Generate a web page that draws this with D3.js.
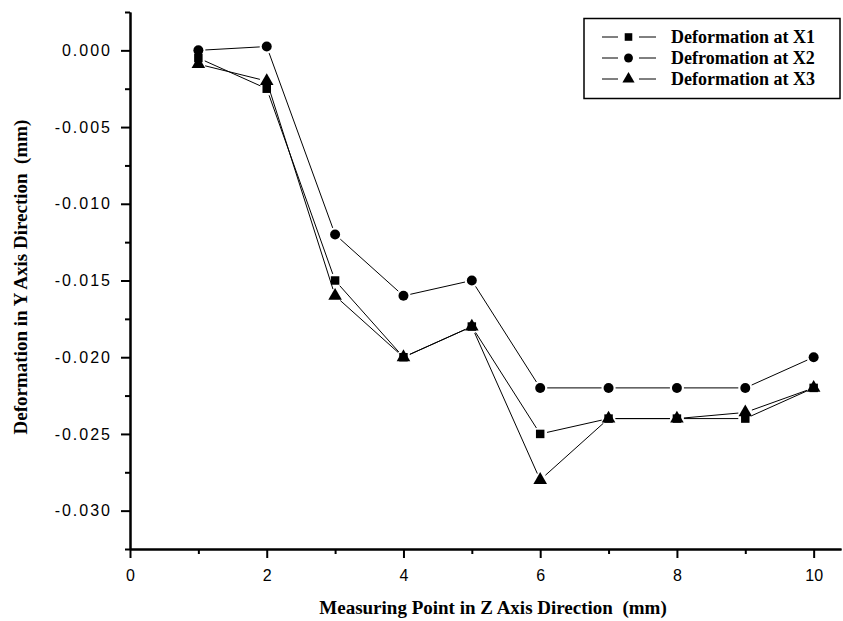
<!DOCTYPE html>
<html><head><meta charset="utf-8">
<script src="https://cdn.jsdelivr.net/npm/d3@7"></script>
<style>body{margin:0;background:#fff}</style></head><body>
<svg id="c" width="843" height="621"></svg>
<script>
const points = [1,2,3,4,5,6,7,8,9,10];
const seriesNames = ["Deformation at X1","Defromation at X2","Deformation at X3"];
const seriesX1 = [-0.0005,-0.0025,-0.015,-0.020,-0.018,-0.025,-0.024,-0.024,-0.024,-0.022];
const seriesX2 = [0.0000,0.00025,-0.012,-0.016,-0.015,-0.022,-0.022,-0.022,-0.022,-0.020];
const seriesX3 = [-0.0009,-0.002,-0.016,-0.020,-0.018,-0.028,-0.024,-0.024,-0.0236,-0.022];
const xMajorTicks = [0,2,4,6,8,10];
const xMinorTicks = [1,3,5,7,9];
const yMajorTicks = [0,-0.005,-0.010,-0.015,-0.020,-0.025,-0.030];
const yMinorTicks = [0.0025,-0.0025,-0.0075,-0.0125,-0.0175,-0.0225,-0.0275,-0.0325];
const xTitle = "Measuring Point in Z Axis Direction\u00a0 (mm)";
const yTitle = "Deformation in Y Axis Direction\u00a0 (mm)";

const svg = d3.select("#c");
const x = d3.scaleLinear().domain([0,10.4]).range([130,841]);
const y = d3.scaleLinear().domain([-0.0325,0.0025]).range([549,12]);

const fmt = v => d3.format(".3f")(v).replace("\u2212","-");

// Y axis
const gy = svg.append("g").attr("transform","translate(130,0)");
gy.call(d3.axisLeft(y).tickValues(yMajorTicks).tickSize(9).tickSizeOuter(0).tickFormat(fmt).tickPadding(9));
gy.append("g").call(d3.axisLeft(y).tickValues(yMinorTicks).tickSize(5).tickSizeOuter(0).tickFormat(""));
gy.selectAll(".domain").attr("stroke","#000").attr("stroke-width",2);
gy.selectAll(".tick line").attr("stroke","#000").attr("stroke-width",2);
gy.selectAll(".tick text").attr("font-family","Arial, 'Liberation Sans', sans-serif")
  .attr("font-size",16).attr("fill","#000").style("letter-spacing","2px");

// X axis
const gx = svg.append("g").attr("transform","translate(0,549)");
gx.call(d3.axisBottom(x).tickValues(xMajorTicks).tickSize(9).tickSizeOuter(0).tickFormat(d3.format("d")).tickPadding(12));
gx.append("g").call(d3.axisBottom(x).tickValues(xMinorTicks).tickSize(5).tickSizeOuter(0).tickFormat(""));
gx.selectAll(".domain").attr("stroke","#000").attr("stroke-width",2);
gx.selectAll(".tick line").attr("stroke","#000").attr("stroke-width",2);
gx.selectAll(".tick text").attr("font-family","Arial, 'Liberation Sans', sans-serif")
  .attr("font-size",16).attr("fill","#000");

// Titles
svg.append("text").attr("x",493).attr("y",614).attr("text-anchor","middle")
  .attr("font-family","'Liberation Serif', 'Times New Roman', serif").attr("font-weight","bold")
  .attr("font-size",19).text(xTitle);
svg.append("text").attr("transform","translate(27,277) rotate(-90)").attr("text-anchor","middle")
  .attr("font-family","'Liberation Serif', 'Times New Roman', serif").attr("font-weight","bold")
  .attr("font-size",19).text(yTitle);

const series = [
  {name: seriesNames[0], values: seriesX1, shape: d3.symbolSquare, size: 72},
  {name: seriesNames[1], values: seriesX2, shape: d3.symbolCircle, size: 78},
  {name: seriesNames[2], values: seriesX3, shape: d3.symbolTriangle, size: 80}
];

const gap = 7;
series.forEach(s => {
  const pts = points.map((p,i)=>[x(p), y(s.values[i])]);
  const g = svg.append("g");
  for (let i=0;i<pts.length-1;i++){
    const [x0,y0]=pts[i],[x1,y1]=pts[i+1];
    const dx=x1-x0, dy=y1-y0, L=Math.hypot(dx,dy);
    if (L <= 2*gap) continue;
    const ux=dx/L, uy=dy/L;
    g.append("line").attr("x1",x0+ux*gap).attr("y1",y0+uy*gap)
      .attr("x2",x1-ux*gap).attr("y2",y1-uy*gap)
      .attr("stroke","#000").attr("stroke-width",1);
  }
  g.selectAll("path.m").data(pts).join("path").attr("class","m")
    .attr("transform",d=>`translate(${d[0]},${d[1]})`)
    .attr("d",d3.symbol().type(s.shape).size(s.size)).attr("fill","#000");
});

// Legend
const lg = svg.append("g");
lg.append("rect").attr("x",584).attr("y",18.5).attr("width",256).attr("height",80)
  .attr("fill","#fff").attr("stroke","#000").attr("stroke-width",1.5);
series.forEach((s,i)=>{
  const cy = 37 + i*21;
  lg.append("line").attr("x1",602).attr("x2",618).attr("y1",cy).attr("y2",cy).attr("stroke","#000");
  lg.append("line").attr("x1",639).attr("x2",656).attr("y1",cy).attr("y2",cy).attr("stroke","#000");
  lg.append("path").attr("transform",`translate(628.5,${cy})`)
    .attr("d",d3.symbol().type(s.shape).size(s.size*0.8)).attr("fill","#000");
  lg.append("text").attr("x",671).attr("y",cy+6)
    .attr("font-family","'Liberation Serif', 'Times New Roman', serif").attr("font-weight","bold")
    .attr("font-size",18).text(s.name);
});
</script></body></html>
